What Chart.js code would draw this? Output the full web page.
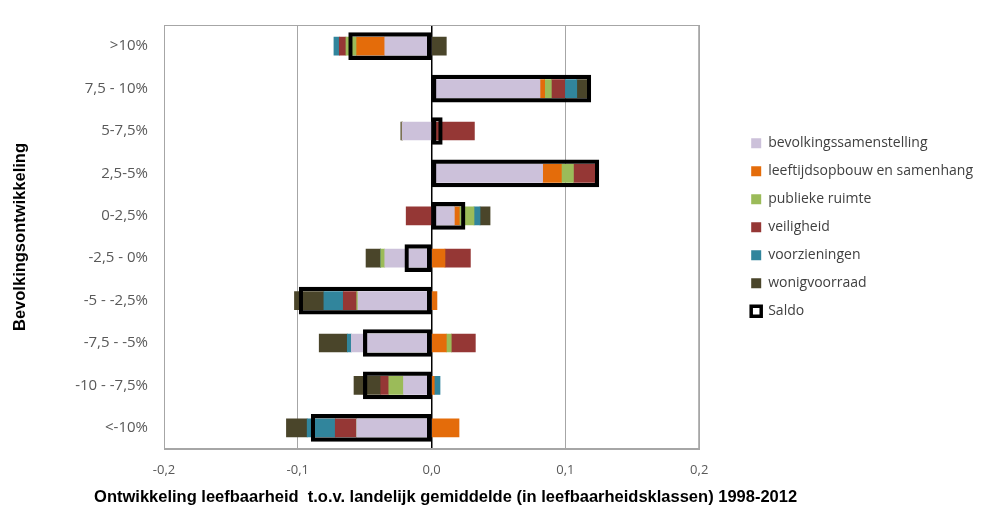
<!DOCTYPE html>
<html lang="nl">
<head>
    <meta charset="UTF-8">
    <title>Ontwikkeling leefbaarheid per bevolkingsontwikkeling</title>
    <script src="https://cdn.jsdelivr.net/npm/chart.js"></script>
    <style>
        body { margin: 0; background: #fff; }
        #wrap { width: 983px; height: 510px; }
    </style>
</head>
<body>
    <div id="wrap"><canvas id="leefbaarheid-chart"></canvas></div>
    <script>
        // klassen bevolkingsontwikkeling (boven naar beneden)
        const categories = ['>10%', '7,5 - 10%', '5-7,5%', '2,5-5%', '0-2,5%', '-2,5 - 0%', '-5 - -2,5%', '-7,5 - -5%', '-10 - -7,5%', '<-10%'];

        const bevolkingssamenstelling = [-0.035, 0.081, -0.022, 0.083, 0.017, -0.035, -0.055, -0.060, -0.021, -0.056];
        const leeftijdsopbouw = [-0.021, 0.0035, 0, 0.014, 0.0037, 0.010, 0.004, 0.011, 0.002, 0.0205];
        const publiekeRuimte = [-0.008, 0.005, 0, 0.009, 0.011, -0.003, -0.001, 0.0037, -0.011, 0];
        const veiligheid = [-0.005, 0.010, 0.032, 0.016, -0.019, 0.019, -0.010, 0.018, -0.006, -0.016];
        const voorzieningen = [-0.004, 0.009, 0, 0.0017, 0.0045, 0, -0.0145, -0.003, 0.0043, -0.021];
        const wonigvoorraad = [0.011, 0.009, -0.001, 0, 0.0075, -0.011, -0.022, -0.021, -0.020, -0.0155];
        const saldo = [-0.062, 0.119, 0.008, 0.125, 0.025, -0.020, -0.099, -0.051, -0.051, -0.090];

        const xTicks = [-0.2, -0.1, 0, 0.1, 0.2];
        const xTitleText = 'Ontwikkeling leefbaarheid  t.o.v. landelijk gemiddelde (in leefbaarheidsklassen) 1998-2012';

        const gray = '#595959';
        const frameColor = '#A6A6A6';

        // rand rond het plotgebied
        const plotFrame = {
            id: 'plotFrame',
            beforeDatasetsDraw(chart) {
                const a = chart.chartArea;
                const ctx = chart.ctx;
                ctx.save();
                ctx.strokeStyle = frameColor;
                ctx.lineWidth = 1;
                ctx.strokeRect(a.left + 0.5, a.top + 0.5, a.width - 1, a.height - 1);
                ctx.restore();
            }
        };

        // x-as titel is breder dan het plotgebied, dus zelf tekenen (niet samendrukken)
        const xAxisTitle = {
            id: 'xAxisTitle',
            afterDraw(chart) {
                const a = chart.chartArea;
                const ctx = chart.ctx;
                ctx.save();
                ctx.font = 'bold 16.5px "Liberation Sans"';
                ctx.fillStyle = '#000000';
                ctx.textAlign = 'center';
                ctx.textBaseline = 'middle';
                ctx.fillText(xTitleText, (a.left + a.right) / 2 + 14, chart.height - 13);
                ctx.restore();
            }
        };

        function part(label, data, color) {
            return {
                label: label,
                data: data,
                backgroundColor: color,
                borderWidth: 0,
                barThickness: 18,
                grouped: false,
                order: 1
            };
        }

        const ctx = document.getElementById('leefbaarheid-chart').getContext('2d');
        const chart = new Chart(ctx, {
            type: 'bar',
            data: {
                labels: categories,
                datasets: [
                    part('bevolkingssamenstelling', bevolkingssamenstelling, '#CCC1DA'),
                    part('leeftijdsopbouw en samenhang', leeftijdsopbouw, '#E46C0A'),
                    part('publieke ruimte', publiekeRuimte, '#9BBB59'),
                    part('veiligheid', veiligheid, '#953735'),
                    part('voorzieningen', voorzieningen, '#31859C'),
                    part('wonigvoorraad', wonigvoorraad, '#4A452A'),
                    {
                        label: 'Saldo',
                        data: saldo,
                        yAxisID: 'y2',
                        stack: 'saldo',
                        grouped: false,
                        backgroundColor: 'rgba(255,255,255,0)',
                        borderColor: '#000000',
                        borderWidth: 3.5,
                        borderSkipped: false,
                        barThickness: 27,
                        order: 0
                    }
                ]
            },
            options: {
                indexAxis: 'y',
                responsive: true,
                maintainAspectRatio: false,
                animation: false,
                layout: { padding: { top: 9, right: 0, bottom: 0, left: 0 } },
                plugins: {
                    tooltip: { enabled: false },
                    legend: {
                        position: 'right',
                        fullSize: false,
                        align: 'start',
                        maxWidth: 320,
                        title: {
                            display: true,
                            text: ' ',
                            font: { size: 1 },
                            padding: { top: 96, bottom: 0 }
                        },
                        labels: {
                            boxWidth: 10,
                            boxHeight: 10,
                            padding: 14,
                            color: '#404040',
                            font: { family: 'Open Sans', size: 14 },
                            sort: (a, b) => a.datasetIndex - b.datasetIndex
                        }
                    }
                },
                scales: {
                    x: {
                        type: 'linear',
                        min: -0.2,
                        max: 0.2,
                        stacked: true,
                        afterBuildTicks: s => { s.ticks = xTicks.map(v => ({ value: v })); },
                        afterFit: s => { s.height = 61; },
                        ticks: {
                            padding: 13,
                            color: gray,
                            font: { family: 'Open Sans', size: 13 },
                            callback: v => Math.abs(v) < 1e-9 ? '0,0' : v.toFixed(1).replace('.', ',')
                        },
                        grid: {
                            drawTicks: false,
                            color: c => (c.tick && Math.abs(c.tick.value) < 1e-9) ? '#000000' : frameColor,
                            lineWidth: c => (c.tick && Math.abs(c.tick.value) < 1e-9) ? 1.5 : 1
                        },
                        border: { color: frameColor },
                        title: { display: false }
                    },
                    y: {
                        type: 'category',
                        stacked: true,
                        offset: true,
                        afterFit: s => { s.width = 164; },
                        ticks: {
                            padding: 16,
                            color: gray,
                            font: { family: 'Open Sans', size: 15 }
                        },
                        grid: { display: false, drawTicks: false },
                        border: { color: frameColor },
                        title: {
                            display: true,
                            text: 'Bevolkingsontwikkeling',
                            color: '#000000',
                            font: { family: 'Liberation Sans', size: 16.5, weight: 'bold' },
                            padding: { top: 11, bottom: 0 }
                        }
                    },
                    y2: {
                        type: 'category',
                        position: 'right',
                        offset: true,
                        stacked: false,
                        afterFit: s => { s.width = 38; },
                        ticks: { display: false },
                        grid: { display: false, drawTicks: false },
                        border: { display: false }
                    }
                }
            },
            plugins: [plotFrame, xAxisTitle]
        });
    </script>
</body>
</html>
